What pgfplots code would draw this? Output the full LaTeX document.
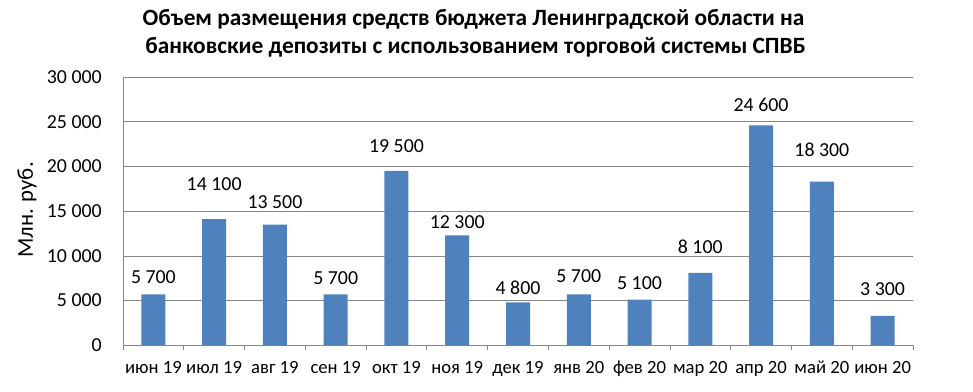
\documentclass[border=0pt]{standalone}
\usepackage{pgfplots}
\pgfplotsset{compat=1.18}
\usepackage{pgfplotstable}
\usepackage{fontspec}
\setmainfont{Carlito}
\definecolor{barblue}{HTML}{4F81BD}
\definecolor{gridgray}{HTML}{868686}
\pgfplotstableread{
x y off
0 5700 12.9
1 14100 26.4
2 13500 17.1
3 5700 12.3
4 19500 18.6
5 12300 9.7
6 4800 10.9
7 5700 13.5
8 5100 12.6
9 8100 19.9
10 24600 15.3
11 18300 23.9
12 3300 20.2
}\datatable
\begin{document}
\begin{tikzpicture}
\useasboundingbox (-92.25pt,-34.3pt) rectangle (637.5pt,259pt);
\begin{axis}[
  at={(0,0)}, anchor=south west,
  scale only axis, width=592.5pt, height=201.2pt,
  xmin=-0.5, xmax=12.5, ymin=0, ymax=30000,
  axis lines*=left,
  axis line style={draw=gridgray, -},
  ytick={0,5000,...,30000},
  ymajorgrids, grid style={draw=gridgray, line width=0.6pt},
  major tick length=0pt,
  xtick={0,...,12},
  xticklabels={июн 19,июл 19,авг 19,сен 19,окт 19,ноя 19,дек 19,янв 20,фев 20,мар 20,апр 20,май 20,июн 20},
  minor xtick={-0.5,0.5,...,12.5},
  minor tick length=3.75pt,
  tick align=outside,
  minor tick style={draw=gridgray, line width=0.6pt},
  /pgf/number format/assume math mode=true,
  /pgf/number format/1000 sep={\ },
  scaled y ticks=false,
  ticklabel style={font=\fontsize{14.9}{18}\selectfont, text=black},
  yticklabel style={anchor=east, inner sep=0pt, xshift=-15.75pt},
  xticklabel style={anchor=base, inner sep=0pt, yshift=-21.5pt, font=\fontsize{14}{17}\selectfont},
  clip=false,
]
\addplot[ybar, fill=barblue, draw=none, bar width=18pt,
  visualization depends on={\thisrow{off} \as \loff},
  nodes near coords,
  every node near coord/.append style={anchor=center, yshift=\loff pt, inner sep=0pt, font=\fontsize{14.9}{18}\selectfont, text=black}]
  table[x=x,y=y]{\datatable};
\end{axis}
\node[anchor=base, font=\bfseries\fontsize{17.5}{20}\selectfont] at (262.9pt,239.5pt) {Объем размещения средств бюджета Ленинградской области на};
\node[anchor=base, font=\bfseries\fontsize{17.5}{20}\selectfont] at (264.4pt,219.2pt) {банковские депозиты с использованием торговой системы СПВБ};
\node[anchor=base, rotate=90, font=\fontsize{17}{20}\selectfont] at (-67.5pt,101.5pt) {Млн. руб.};
\end{tikzpicture}
\end{document}
